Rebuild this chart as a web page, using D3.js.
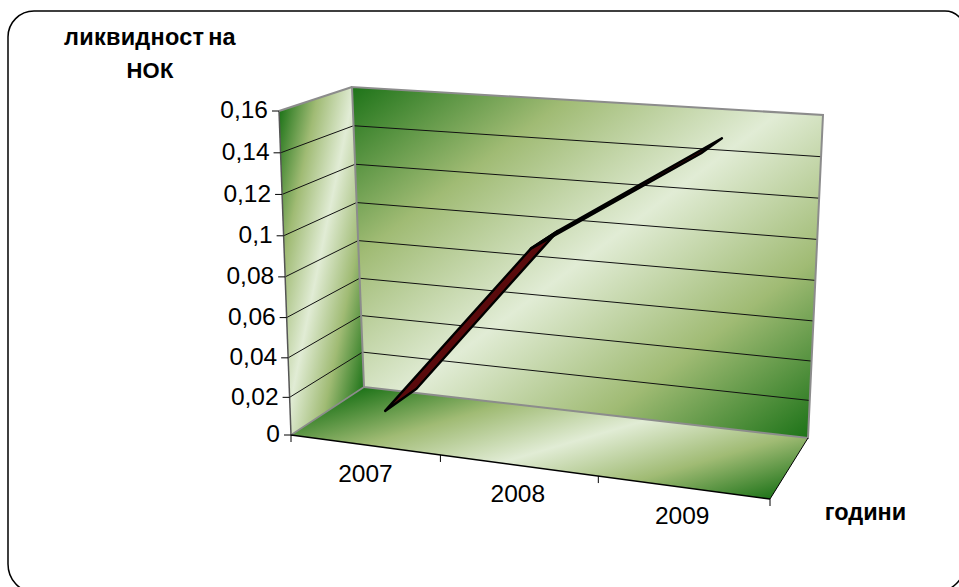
<!DOCTYPE html>
<html>
<head>
<meta charset="utf-8">
<script src="https://cdn.jsdelivr.net/npm/d3@7/dist/d3.min.js"></script>
<style>
html,body{margin:0;padding:0;background:#fff;overflow:hidden}
svg{display:block}
text{font-family:"Liberation Sans",Arial,sans-serif;fill:#000}
</style>
</head>
<body>
<svg id="chart" width="959" height="587"></svg>
<script>
// Liquidity ratio by year
const years = ["2007", "2008", "2009"];
const liquidity = [0.0105, 0.099, 0.15];
const valueTicks = [0, 0.02, 0.04, 0.06, 0.08, 0.1, 0.12, 0.14, 0.16];
const valueLabels = ["0", "0,02", "0,04", "0,06", "0,08", "0,1", "0,12", "0,14", "0,16"];
const yTitleLines = ["ликвидност на", "НОК"];
const xTitle = "години";

// Screen corners of the 3D box: front-left, front-right, back-right, back-left
const floorCorners = [[291, 435], [770, 499], [808, 438], [364, 387]];
const ceilCorners = [[279, 111], [786, 148], [823, 115], [352, 87]];
const rampStops = ["#1d7318", "#a0bb74", "#e1ecd5", "#a0bb74", "#1d7318"];

function quadMap([p0, p1, p2, p3]) {
  const dx1 = p1[0] - p2[0], dx2 = p3[0] - p2[0], sx = p0[0] - p1[0] + p2[0] - p3[0];
  const dy1 = p1[1] - p2[1], dy2 = p3[1] - p2[1], sy = p0[1] - p1[1] + p2[1] - p3[1];
  const den = dx1 * dy2 - dx2 * dy1;
  const g = (sx * dy2 - dx2 * sy) / den, h = (dx1 * sy - sx * dy1) / den;
  const a = p1[0] - p0[0] + g * p1[0], b = p3[0] - p0[0] + h * p3[0];
  const d = p1[1] - p0[1] + g * p1[1], e = p3[1] - p0[1] + h * p3[1];
  return (u, v) => {
    const w = g * u + h * v + 1;
    return [(a * u + b * v + p0[0]) / w, (d * u + e * v + p0[1]) / w];
  };
}
const floorMap = quadMap(floorCorners), ceilMap = quadMap(ceilCorners);

const xScale = d3.scalePoint().domain(years).range([0, 1]).padding(0.5);
const xWarp = d3.scalePow().exponent(0.97).domain([0, 1]).range([0, 1]);
const yScale = d3.scalePow().exponent(1.035).domain([0, 0.16]).range([0, 1]);

// Project (category fraction, value, depth fraction) to the screen
function project(x, value, z) {
  const u = xWarp(x);
  const f = floorMap(u, z), c = ceilMap(u, z), t = yScale(value);
  return [f[0] + (c[0] - f[0]) * t, f[1] + (c[1] - f[1]) * t];
}

const svg = d3.select("#chart");
const defs = svg.append("defs");
const line = d3.line();
const closed = pts => line(pts) + "Z";

function ramp(id, from, to) {
  const g = defs.append("linearGradient").attr("id", id).attr("gradientUnits", "userSpaceOnUse")
    .attr("x1", from[0]).attr("y1", from[1]).attr("x2", to[0]).attr("y2", to[1]);
  rampStops.forEach((c, i) => g.append("stop").attr("offset", i / 4).attr("stop-color", c));
}

// Outer rounded frame, running off the right and bottom edges
svg.append("path")
  .attr("d", "M8,37A26,26 0 0 1 34,11H945A20,20 0 0 1 965,31V563A29,29 0 0 1 936,592H34A26,28 0 0 1 8,564Z")
  .attr("fill", "#fff").attr("stroke", "#000").attr("stroke-width", 1.5);

const vMax = 0.16;
const leftWall = [project(0, 0, 0), project(0, vMax, 0), project(0, vMax, 1), project(0, 0, 1)];
const backWall = [project(0, 0, 1), project(0, vMax, 1), project(1, vMax, 1), project(1, 0, 1)];
const floorQuad = [project(0, 0, 0), project(0, 0, 1), project(1, 0, 1), project(1, 0, 0)];

ramp("leftFill", [279, 111], [279 + 0.98 * 139, 111 + 0.2 * 139]);
ramp("backFill", [352, 87], [352 + 0.6 * 554, 87 + 0.8 * 554]);
ramp("floorFill", [364, 387], [364 + 0.28 * 222, 387 + 0.96 * 222]);

svg.append("path").attr("d", closed(leftWall)).attr("fill", "url(#leftFill)");
svg.append("path").attr("d", closed(backWall)).attr("fill", "url(#backFill)");
svg.append("path").attr("d", closed(floorQuad)).attr("fill", "url(#floorFill)");

// Gridlines wrap from the front-left edge across both walls
const inner = valueTicks.filter(v => v > 0 && v < vMax);
svg.append("g").selectAll("path").data(inner).join("path")
  .attr("d", v => line([project(0, v, 0), project(0, v, 1), project(1, v, 1)]))
  .attr("fill", "none").attr("stroke", "#111").attr("stroke-width", 1);

// Wall outlines
const edge = (pts, color, width) => svg.append("path").attr("d", line(pts))
  .attr("fill", "none").attr("stroke", color).attr("stroke-width", width).attr("stroke-linejoin", "miter");
edge([project(0, 0, 0), project(0, vMax, 0)], "#555", 1.5);
edge([project(0, vMax, 0), project(0, vMax, 1)], "#8c8c8c", 2);
edge([project(0, 0, 0), project(0, 0, 1)], "#8c8c8c", 1.5);
edge(backWall.concat([backWall[0]]), "#8c8c8c", 2);
edge([project(0, 0, 0), project(1, 0, 0)], "#000", 1.5);
edge([project(1, 0, 0), project(1, 0, 1)], "#000", 1);

// Value axis: ticks and labels along the front-left edge
const yAxis = svg.append("g").selectAll("g").data(valueTicks).join("g")
  .attr("transform", v => `translate(${project(0, v, 0)})`);
yAxis.append("line").attr("x1", -7).attr("x2", 0).attr("stroke", "#000").attr("stroke-width", 1);
yAxis.append("text").attr("x", -11).attr("dy", "0.3em").attr("text-anchor", "end")
  .attr("font-size", 24.5)
  .text((v, i) => valueLabels[i]);

// Category axis: ticks between categories, labels below the front edge
const step = xScale.step();
const catEdges = d3.range(years.length + 1).map(i => i * step);
svg.append("g").selectAll("line").data(catEdges).join("line")
  .attr("x1", u => project(u, 0, 0)[0]).attr("x2", u => project(u, 0, 0)[0])
  .attr("y1", u => project(u, 0, 0)[1]).attr("y2", u => project(u, 0, 0)[1] + 7)
  .attr("stroke", "#000").attr("stroke-width", 1);
svg.append("g").selectAll("text").data(years).join("text")
  .attr("x", d => project(xScale(d), 0, 0)[0])
  .attr("y", d => project(xScale(d), 0, 0)[1] + 37)
  .attr("text-anchor", "middle").attr("font-size", 24.5).text(d => d);

// Ribbon of the 3D line: depth extends between two planes in the box
const zFront = 0.28, zBack = 0.74;
const frontEdge = years.map((y, i) => project(xScale(y), liquidity[i], zFront));
const backEdge = years.map((y, i) => project(xScale(y), liquidity[i], zBack));
d3.range(years.length - 1).forEach(i => {
  svg.append("path")
    .attr("d", closed([frontEdge[i], frontEdge[i + 1], backEdge[i + 1], backEdge[i]]))
    .attr("fill", "#5a0a0c").attr("stroke", "#000").attr("stroke-width", 2.4).attr("stroke-linejoin", "round");
});

// Axis titles
svg.append("g").selectAll("text").data(yTitleLines).join("text")
  .attr("x", 150).attr("y", (d, i) => 45 + i * 33)
  .attr("text-anchor", "middle").attr("font-size", (d, i) => i ? 22 : 23.5)
  .attr("font-weight", "bold").attr("word-spacing", -3).attr("letter-spacing", 0.25).text(d => d);
svg.append("text").attr("x", 865.5).attr("y", 520).attr("text-anchor", "middle")
  .attr("font-size", 23.5).attr("font-weight", "bold").text(xTitle);
</script>
</body>
</html>
